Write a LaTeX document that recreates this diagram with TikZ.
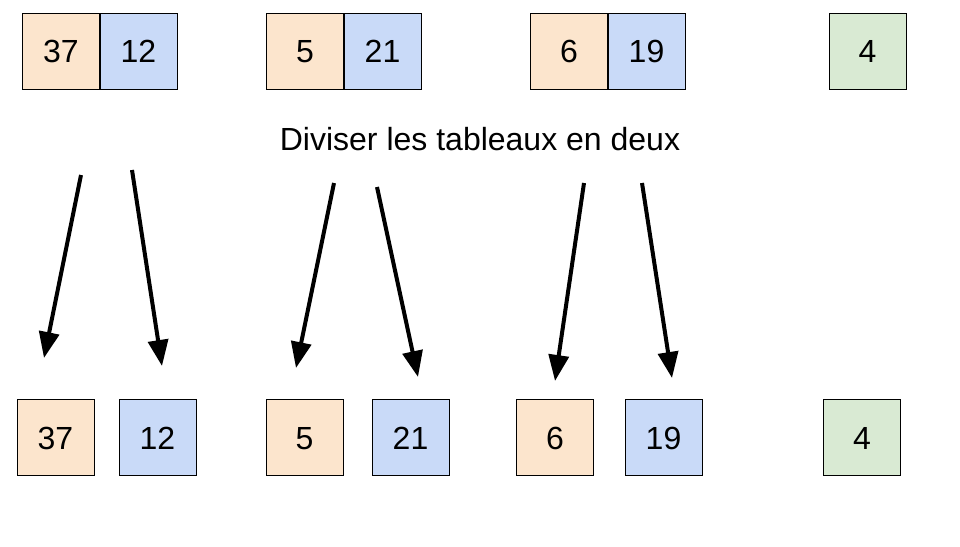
\documentclass[tikz,border=0pt]{standalone}
\usepackage{fontspec}
\setmainfont{Liberation Sans}
\usetikzlibrary{arrows.meta}
\definecolor{cellorange}{HTML}{FCE5CD}
\definecolor{cellblue}{HTML}{C9DAF8}
\definecolor{cellgreen}{HTML}{D9EAD3}
\begin{document}
\begin{tikzpicture}[x=1pt,y=-1pt,
  cell/.style={draw,line width=1pt,minimum width=77pt,minimum height=76pt,
    inner sep=0pt,text height=23pt,text depth=0pt,font=\fontsize{32}{38}\selectfont},
  split/.style={line width=4pt,-{Triangle[length=26pt,width=20pt]}}]
\useasboundingbox (0,0) rectangle (960,546);

\node[cell,fill=cellorange] (a37) at (61,51) {37};
\node[cell,fill=cellblue] (a12) at (138.5,51) {12};
\node[cell,fill=cellorange] (b5) at (305,51) {5};
\node[cell,fill=cellblue] (b21) at (382.5,51) {21};
\node[cell,fill=cellorange] (c6) at (569,51) {6};
\node[cell,fill=cellblue] (c19) at (646.5,51) {19};
\node[cell,fill=cellgreen] (d4) at (867.5,51) {4};

\node[font=\fontsize{32}{38}\selectfont] (label) at (480,139) {Diviser les tableaux en deux};

\coordinate (s1) at (81,175);   \coordinate (e1) at (44,358);
\coordinate (s2) at (132,170);  \coordinate (e2) at (162,366);
\coordinate (s3) at (334,183);  \coordinate (e3) at (296,368);
\coordinate (s4) at (377,187);  \coordinate (e4) at (418,377);
\coordinate (s5) at (584,183);  \coordinate (e5) at (555,381);
\coordinate (s6) at (642,183);  \coordinate (e6) at (672,378);
\draw[split] (s1) -- (e1);
\draw[split] (s2) -- (e2);
\draw[split] (s3) -- (e3);
\draw[split] (s4) -- (e4);
\draw[split] (s5) -- (e5);
\draw[split] (s6) -- (e6);

\node[cell,fill=cellorange] (n37) at (55.5,437.5) {37};
\node[cell,fill=cellblue] (n12) at (157.5,437.5) {12};
\node[cell,fill=cellorange] (n5) at (304.5,437.5) {5};
\node[cell,fill=cellblue] (n21) at (410.5,437.5) {21};
\node[cell,fill=cellorange] (n6) at (555,437.5) {6};
\node[cell,fill=cellblue] (n19) at (663.5,437.5) {19};
\node[cell,fill=cellgreen] (n4) at (862,437.5) {4};
\end{tikzpicture}
\end{document}
